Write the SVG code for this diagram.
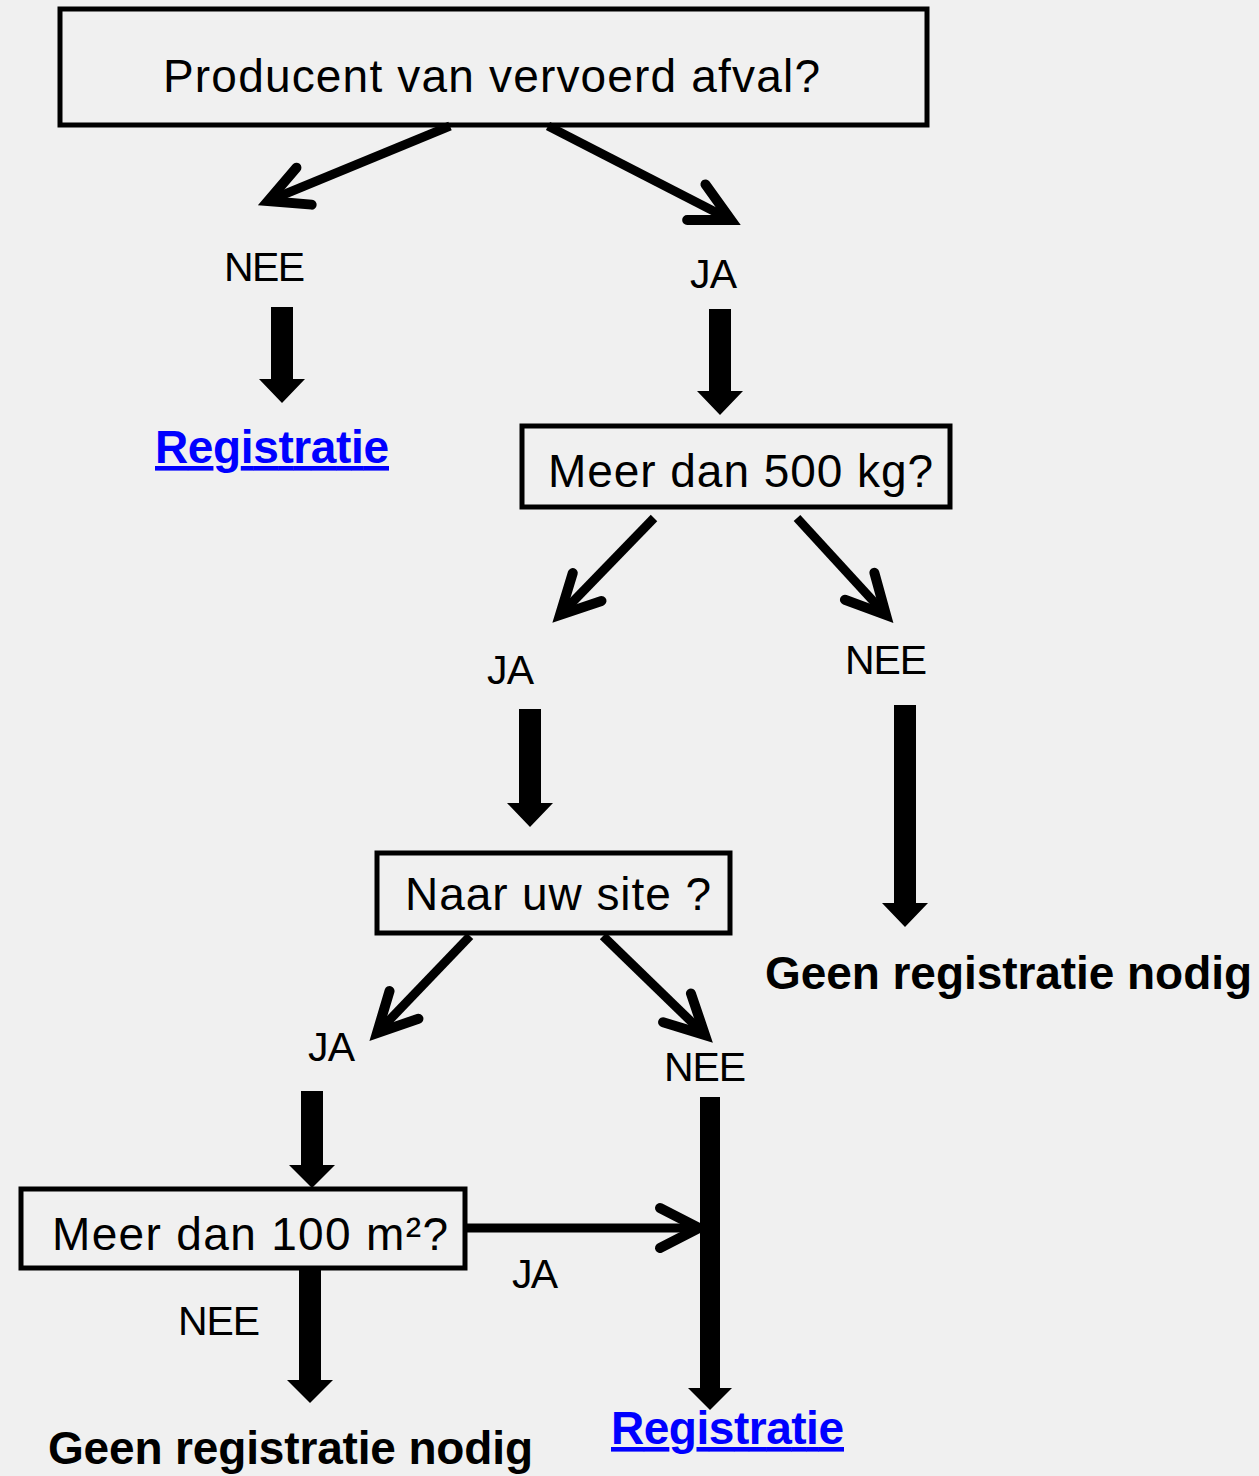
<svg xmlns="http://www.w3.org/2000/svg" width="1259" height="1476" viewBox="0 0 1259 1476">
  <style>
    .box { fill: none; stroke: #000; stroke-width: 5; }
    .q { font-family: "Liberation Sans", Arial, sans-serif; font-size: 46px; fill: #000; }
    .lbl { font-family: "Liberation Sans", Arial, sans-serif; font-size: 41px; fill: #000; }
    .res { font-family: "Liberation Sans", Arial, sans-serif; font-size: 46px; font-weight: bold; fill: #000; }
    .link { font-family: "Liberation Sans", Arial, sans-serif; font-size: 46px; font-weight: bold; fill: #0000ff; text-decoration: underline; }
    .thin { fill: none; stroke: #000; stroke-width: 9; marker-end: url(#chev); }
    .block { fill: #000; }
  </style>
  <defs>
    <marker id="chev" markerUnits="userSpaceOnUse" orient="auto" refX="0" refY="0" markerWidth="60" markerHeight="60" viewBox="-50 -30 60 60" overflow="visible">
      <path d="M-39,-20 L0,0 L-39,20" fill="none" stroke="#000" stroke-width="10" stroke-linecap="round" stroke-linejoin="miter"/>
    </marker>
  </defs>
  <rect width="1259" height="1476" fill="#f0f0f0"/>

  <g id="connectors">
    <path class="thin" d="M450,126 L268,201"/>
    <path class="thin" d="M548,126 L731,220"/>
    <path class="thin" d="M654,518 L560,615"/>
    <path class="thin" d="M797,518 L886,615"/>
    <path class="thin" d="M470,936 L377,1033"/>
    <path class="thin" d="M603,936 L705,1035"/>
    <path class="thin" d="M466,1228 L699,1228"/>
    <path class="block" d="M271,307 H293 V379 H305 L282,403 L259,379 H271 Z"/>
    <path class="block" d="M709,309 H731 V391 H743 L720,415 L697,391 H709 Z"/>
    <path class="block" d="M519,709 H541 V803 H553 L530,827 L507,803 H519 Z"/>
    <path class="block" d="M894,705 H916 V903 H928 L905,927 L882,903 H894 Z"/>
    <path class="block" d="M301,1091 H323 V1165 H335 L312,1188 L289,1165 H301 Z"/>
    <path class="block" d="M299,1268 H321 V1380 H333 L310,1403 L287,1380 H299 Z"/>
    <path class="block" d="M700,1097 H720 V1388 H732 L710,1410 L688,1388 H700 Z"/>
  </g>

  <g id="n-producent">
    <rect class="box" x="60" y="9" width="867" height="116"/>
    <text class="q" x="163" y="92" textLength="657">Producent van vervoerd afval?</text>
  </g>
  <g id="l-nee1"><text class="lbl" x="224" y="281" textLength="81">NEE</text></g>
  <g id="l-ja1"><text class="lbl" x="690" y="288" textLength="47">JA</text></g>
  <g id="n-registratie1"><text class="link" x="155" y="463" textLength="234">Registratie</text></g>

  <g id="n-500kg">
    <rect class="box" x="522" y="426" width="428" height="81"/>
    <text class="q" x="548" y="487" textLength="385">Meer dan 500 kg?</text>
  </g>
  <g id="l-ja2"><text class="lbl" x="487" y="684" textLength="47">JA</text></g>
  <g id="l-nee2"><text class="lbl" x="845" y="674" textLength="82">NEE</text></g>
  <g id="n-geen1"><text class="res" x="765" y="989" textLength="487">Geen registratie nodig</text></g>

  <g id="n-site">
    <rect class="box" x="377" y="853" width="353" height="80"/>
    <text class="q" x="405" y="910" textLength="306">Naar uw site ?</text>
  </g>
  <g id="l-ja3"><text class="lbl" x="308" y="1061" textLength="47">JA</text></g>
  <g id="l-nee3"><text class="lbl" x="664" y="1081" textLength="82">NEE</text></g>

  <g id="n-100m2">
    <rect class="box" x="21" y="1189" width="444" height="79"/>
    <text class="q" x="52" y="1250" textLength="396">Meer dan 100 m²?</text>
  </g>
  <g id="l-ja4"><text class="lbl" x="512" y="1288" textLength="46">JA</text></g>
  <g id="l-nee4"><text class="lbl" x="178" y="1335" textLength="82">NEE</text></g>
  <g id="n-geen2"><text class="res" x="48" y="1464" textLength="485">Geen registratie nodig</text></g>
  <g id="n-registratie2"><text class="link" x="611" y="1444" textLength="233">Registratie</text></g>
</svg>
